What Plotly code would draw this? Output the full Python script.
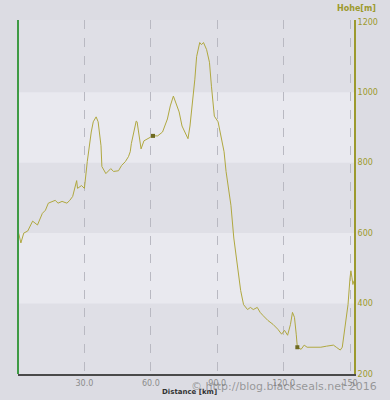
import plotly.graph_objects as go

distance_km = [0.3, 1.3, 2.6, 4.4, 6.6, 8.8, 11.0, 12.4, 13.7, 15.4, 16.8, 18.1, 19.9, 22.1, 23.4, 24.7,
               26.5, 26.9, 28.7, 30.0, 31.3, 33.1, 34.0, 35.3, 36.2, 37.5, 37.9, 39.7, 41.9, 43.2, 45.4,
               46.8, 48.5, 49.9, 50.7, 51.2, 52.5, 53.4, 53.8, 54.7, 55.6, 56.9, 58.7, 60.9, 63.1, 65.3,
               67.5, 68.8, 70.2, 71.0, 72.8, 74.1, 75.4, 76.8, 77.7, 79.0, 79.9, 80.7, 82.1, 82.9, 83.8,
               85.2, 86.5, 87.4, 88.7, 90.4, 91.8, 93.1, 94.0, 96.2, 97.5, 99.3, 100.6, 101.9, 103.7,
               105.0, 106.3, 108.1, 109.4, 110.7, 112.9, 115.2, 117.4, 119.1, 120.4, 121.8, 123.1, 124.0,
               124.9, 125.7, 126.2, 127.9, 129.3, 130.6, 133.7, 136.8, 139.4, 142.5, 143.8, 145.6, 146.5,
               147.8, 149.1, 150.0, 150.4, 150.9, 151.3, 151.8]
elevation_m = [600, 572, 600, 606, 634, 623, 656, 665, 685, 690, 693, 685, 690, 685, 693, 704,
               749, 727, 735, 727, 803, 887, 916, 930, 916, 848, 789, 769, 783, 775, 777,
               792, 803, 817, 831, 854, 896, 918, 916, 876, 839, 862, 868, 876, 876, 887,
               924, 961, 989, 975, 944, 904, 887, 868, 904, 980, 1037, 1101, 1141, 1135, 1141,
               1121, 1085, 1017, 932, 916, 876, 831, 775, 679, 586, 493, 437, 397, 383,
               389, 383, 389, 375, 366, 352, 341, 327, 313, 324, 310, 341, 375,
               361, 313, 276, 270, 282, 276, 276, 276, 279, 282, 276, 268, 276,
               341, 397, 473, 493, 473, 454, 465]

marker_km = [61.0, 126.2]
marker_m = [876, 276]

x_ticks = [30, 60, 90, 120, 150]
x_tick_labels = ["30.0", "60.0", "90.0", "120.0", "150"]
y_ticks = [200, 400, 600, 800, 1000, 1200]
y_tick_labels = ["200", "400", "600", "800", "1000", "1200"]
light_bands = [(400, 600), (800, 1000)]

LINE = "#b0a840"
OLIVE = "#9c9a2e"

fig = go.Figure()
fig.add_trace(go.Scatter(x=distance_km, y=elevation_m, mode="lines",
                         line=dict(color=LINE, width=1), hoverinfo="skip"))
fig.add_trace(go.Scatter(x=marker_km, y=marker_m, mode="markers",
                         marker=dict(symbol="square", size=4, color="#6e6a22"), hoverinfo="skip"))

shapes = []
for lo, hi in light_bands:
    shapes.append(dict(type="rect", xref="paper", yref="y", x0=0, x1=1, y0=lo, y1=hi,
                       fillcolor="#e9e9ef", line=dict(width=0), layer="below"))
shapes.append(dict(type="line", xref="paper", yref="paper", x0=0, x1=0, y0=0, y1=1,
                   line=dict(color="#3f9a45", width=2)))
fig.update_layout(shapes=shapes)

fig.update_layout(
    width=390, height=400,
    margin=dict(l=18, r=29, t=20, b=23),
    paper_bgcolor="#dcdce3",
    plot_bgcolor="#dfdfe6",
    showlegend=False,
    font=dict(family="DejaVu Sans", size=8, color="#8c8c8c"),
    xaxis=dict(range=[0, 151.8], tickvals=x_ticks, ticktext=x_tick_labels,
               showgrid=True, gridcolor="#b9b9c2", griddash="dash", gridwidth=1,
               showline=True, linecolor="#4a4a4a", linewidth=2, ticks="",
               zeroline=False, tickfont=dict(size=8, color="#8c8c8c")),
    yaxis=dict(range=[200, 1205], side="right", tickvals=y_ticks, ticktext=y_tick_labels,
               showgrid=False, showline=True, linecolor=OLIVE, linewidth=2, ticks="",
               zeroline=False, tickfont=dict(size=8, color=OLIVE, family="DejaVu Sans")),
    annotations=[
        dict(text="<b>Hohe[m]</b>", xref="paper", yref="paper", x=1.072, y=1.0, yshift=12,
             showarrow=False, xanchor="right", yanchor="middle",
             font=dict(size=8, color=OLIVE)),
        dict(text="<b>Distance [km]</b>", xref="paper", yref="paper", x=0.51, y=0, yshift=-18,
             showarrow=False, xanchor="center", yanchor="middle",
             font=dict(size=7, color="#333333")),
        dict(text="© http://blog.blackseals.net 2016", xref="paper", yref="paper", x=1.075, y=0, yshift=-12,
             showarrow=False, xanchor="right", yanchor="middle",
             font=dict(size=11, color="rgba(120,120,120,0.7)", family="DejaVu Sans")),
    ],
)

fig.write_html("out.html")
